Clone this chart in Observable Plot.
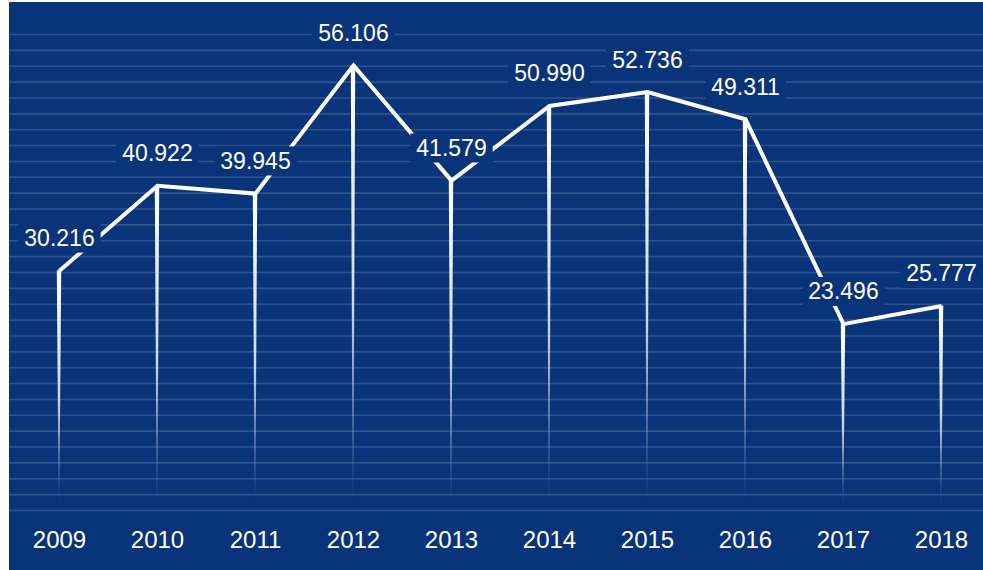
<!DOCTYPE html>
<html>
<head>
<meta charset="utf-8">
<script src="https://cdn.jsdelivr.net/npm/d3@7"></script>
<script src="https://cdn.jsdelivr.net/npm/@observablehq/plot@0.6"></script>
<style>
  html, body { margin: 0; padding: 0; background: #ffffff; }
  #chart { position: absolute; left: 9px; top: 2px; width: 974px; height: 568px; background: #0a3479; overflow: hidden; }
  #chart svg { display: block; }
</style>
</head>
<body>
<div id="chart"></div>
<script>
const BG = "#0a3479";
const years = ["2009", "2010", "2011", "2012", "2013", "2014", "2015", "2016", "2017", "2018"];
const values = [30.216, 40.922, 39.945, 56.106, 41.579, 50.990, 52.736, 49.311, 23.496, 25.777];
const valueLabels = ["30.216", "40.922", "39.945", "56.106", "41.579", "50.990", "52.736", "49.311", "23.496", "25.777"];
const gridTicks = [0, 2, 4, 6, 8, 10, 12, 14, 16, 18, 20, 22, 24, 26, 28, 30, 32, 34, 36, 38, 40, 42, 44, 46, 48, 50, 52, 54, 56, 58, 60];

const data = years.map((year, i) => ({year, value: values[i], label: valueLabels[i]}));

const plot = Plot.plot({
  width: 974,
  height: 568,
  marginLeft: 0,
  marginRight: 0,
  marginTop: 32,
  marginBottom: 60,
  style: {
    background: "transparent",
    color: "white",
    fontFamily: "'Liberation Sans', Arial, Helvetica, sans-serif",
    fontSize: "24px",
    overflow: "visible"
  },
  x: {type: "point", domain: years, padding: 0, insetLeft: 49, insetRight: 41, tickSize: 0, tickPadding: 20, label: null},
  y: {domain: [0, 60], axis: null},
  marks: [
    Plot.ruleY(gridTicks, {stroke: "white", strokeOpacity: 0.15, strokeWidth: 1.6}),
    Plot.line(data, {x: "year", y: "value", stroke: "white", strokeWidth: 4, strokeLinejoin: "miter", strokeMiterlimit: 10, strokeLinecap: "butt"}),
    Plot.text(data, {x: "year", y: "value", text: "label", dy: -32, fill: "white", fontSize: 23})
  ]
});

document.getElementById("chart").appendChild(plot);

// tapered, fading drop lines from each point to the baseline
const ns = "http://www.w3.org/2000/svg";
const xs = plot.scale("x"), ys = plot.scale("y");
const defs = document.createElementNS(ns, "defs");
defs.innerHTML = '<linearGradient id="fade" x1="0" y1="0" x2="0" y2="1">' +
  '<stop offset="0" stop-color="#fff" stop-opacity="1"/>' +
  '<stop offset="0.55" stop-color="#fff" stop-opacity="0.8"/>' +
  '<stop offset="1" stop-color="#fff" stop-opacity="0"/></linearGradient>';
plot.insertBefore(defs, plot.firstChild);
const wedges = document.createElementNS(ns, "g");
data.forEach(d => {
  const cx = xs.apply(d.year), top = ys.apply(d.value), bot = ys.apply(0) - 6;
  const p = document.createElementNS(ns, "polygon");
  p.setAttribute("points", `${cx - 2.2},${top} ${cx + 2.2},${top} ${cx + 0.4},${bot} ${cx - 0.4},${bot}`);
  p.setAttribute("fill", "url(#fade)");
  wedges.appendChild(p);
});
const lineG = plot.querySelector('[aria-label="line"]');
lineG.parentNode.insertBefore(wedges, lineG);

// background boxes behind value labels
const textG = plot.querySelector('[aria-label="text"]');
textG.querySelectorAll("text").forEach(t => {
  const b = t.getBBox();
  const r = document.createElementNS(ns, "rect");
  r.setAttribute("x", b.x - 6);
  r.setAttribute("y", b.y - 1.5);
  r.setAttribute("width", b.width + 12);
  r.setAttribute("height", b.height + 3);
  r.setAttribute("fill", BG);
  const tr = t.getAttribute("transform");
  if (tr) r.setAttribute("transform", tr);
  t.parentNode.insertBefore(r, t);
});
</script>
</body>
</html>
